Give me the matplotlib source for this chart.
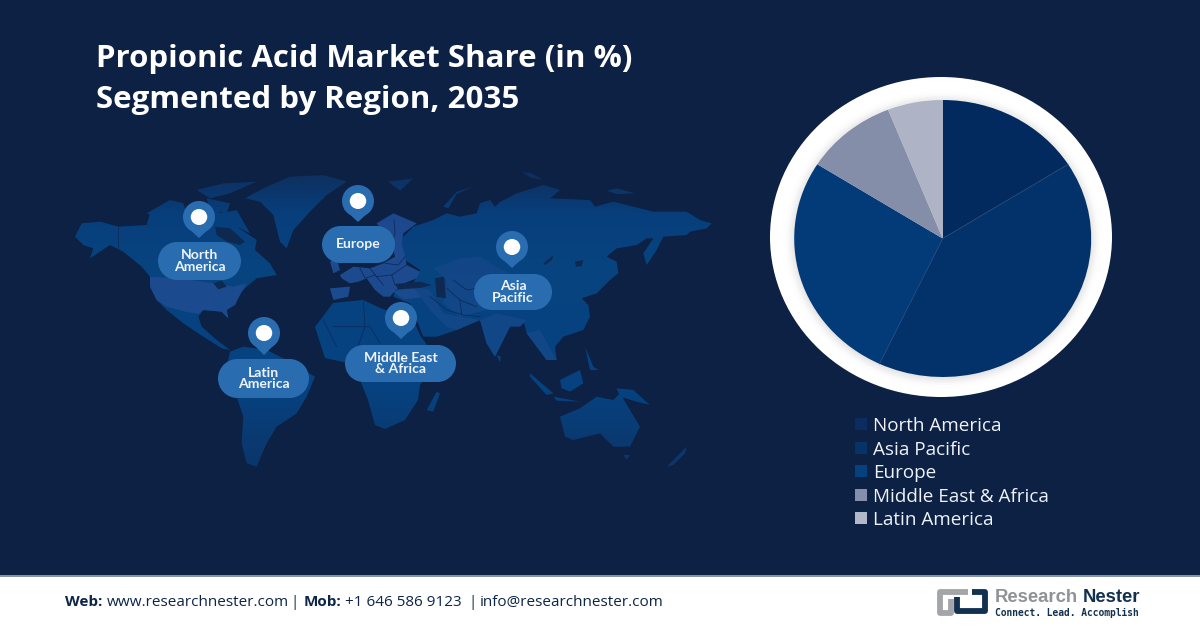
import numpy as np
import matplotlib
matplotlib.use('Agg')
import matplotlib.pyplot as plt
from matplotlib.patches import Ellipse, Polygon, Rectangle, PathPatch
from matplotlib.path import Path
from matplotlib.colors import LinearSegmentedColormap

# chart values
regions = ['North America', 'Asia Pacific', 'Europe', 'Middle East & Africa', 'Latin America']
shares = [16, 41, 27, 10, 6]
slice_colors = ['#022a5e', '#03326b', '#033b78', '#848ea8', '#aeb4c5']
legend_colors = ['#0b2c60', '#053566', '#04427f', '#858fab', '#b3b8c8']
shown_label = '41%'

title_lines = ['Propionic Acid Market Share (in %)', 'Segmented by Region, 2035']

BG = '#0d2144'
NAVY = '#0d2547'
PIN = '#2a6cb0'
SEA = '#0e2850'

fig = plt.figure(figsize=(12, 6.28), dpi=100, facecolor=BG)
bg = fig.add_axes([0, 0, 1, 1])
bg.set_xlim(0, 1200)
bg.set_ylim(628, 0)
bg.axis('off')


def crop(x0, y0):
    return lambda pts: [(x0 + x / 3, y0 + y / 3) for x, y in pts]


z3 = crop(70, 170)
z4 = crop(380, 170)
z5 = crop(320, 200)
z6 = crop(500, 170)
z7 = crop(130, 170)

eurasia = (
    z4([(60, 210), (100, 170), (160, 150), (200, 130), (240, 140), (290, 130), (300, 100), (330, 90), (345, 110),
        (360, 96)])
    + z6([(50, 70), (130, 45), (180, 60), (150, 85), (270, 90), (285, 110), (340, 95), (460, 125), (560, 125),
          (600, 150), (635, 160), (620, 175), (570, 185), (560, 195), (490, 200), (470, 240), (440, 285), (430, 250),
          (460, 205), (440, 205), (410, 225), (350, 235), (320, 260), (350, 275), (355, 310), (330, 330), (290, 370),
          (245, 385), (265, 405), (270, 440), (250, 480), (190, 500), (165, 530)])
    + z4([(530, 570), (500, 570), (470, 530), (440, 490), (430, 450), (390, 470), (345, 560), (320, 520), (300, 450),
          (230, 480), (170, 500), (130, 500), (90, 400), (40, 380), (50, 350), (100, 340), (120, 300), (60, 260)])
)

land = [
    # alaska + canada + central america
    z3([(15, 200), (35, 160), (90, 155), (145, 170), (230, 165), (240, 130), (300, 140), (340, 130), (400, 150),
        (420, 110), (470, 140), (500, 170), (530, 190), (560, 210), (555, 240), (600, 280), (620, 315), (560, 325),
        (530, 350), (500, 380), (495, 400), (470, 420), (475, 445), (455, 425), (400, 420), (385, 440), (395, 470),
        (440, 510), (480, 540), (455, 535), (400, 500), (340, 460), (290, 420), (260, 390), (240, 350), (240, 320),
        (215, 290), (160, 245), (120, 225), (60, 265), (70, 235), (40, 225)]),
    # arctic islands
    z7([(50, 130), (120, 90), (160, 100), (170, 130), (110, 150)]),
    z7([(200, 60), (280, 40), (380, 35), (300, 70), (240, 85)]),
    z7([(230, 85), (300, 100), (290, 130), (240, 120)]),
    z7([(270, 130), (320, 120), (360, 190), (320, 170)]),
    # greenland
    z7([(345, 85), (400, 55), (480, 20), (580, 15), (650, 35), (590, 75), (540, 125), (490, 180), (470, 235),
        (450, 215), (430, 135), (390, 95)]),
    # south america
    z3([(480, 545), (520, 530), (590, 540), (650, 570), (735, 620), (710, 680), (680, 730), (620, 770), (590, 820),
        (560, 890), (530, 880), (515, 820), (520, 740), (500, 680), (470, 630), (470, 590)]),
    # africa
    [(315, 327), (333, 303), (363, 300), (385, 310), (410, 312), (420, 335), (432, 352), (448, 355), (430, 372),
     (420, 385), (418, 400), (405, 420), (385, 429), (375, 425), (368, 400), (362, 385), (357, 365), (325, 358)],
    z4([(140, 720), (170, 665), (180, 670), (160, 725)]),
    eurasia,
    z4([(190, 110), (230, 65), (280, 50), (230, 72), (205, 115)]),
    z4([(25, 35), (100, 25), (60, 62)]),
    z6([(320, 62), (350, 55), (405, 70), (350, 72)]),
    z6([(65, 5), (95, 10), (130, 30), (90, 22)]),
    z4([(350, 555), (362, 560), (360, 578)]),
    # indonesia, philippines, new guinea
    z4([(450, 610), (520, 670), (500, 675), (450, 620)]),
    z4([(540, 630), (600, 600), (610, 640), (570, 665), (545, 655)]),
    z4([(520, 680), (600, 695), (530, 692)]),
    z4([(615, 530), (640, 590), (655, 600), (630, 600)]),
    z4([(710, 655), (760, 660), (810, 705), (770, 695), (720, 680)]),
    # australia + nz
    z4([(540, 740), (600, 715), (650, 680), (700, 690), (720, 670), (780, 770), (750, 830), (700, 830), (660, 790),
        (580, 810), (555, 800)]),
    z4([(730, 855), (750, 855), (740, 870)]),
    z4([(860, 890), (890, 860), (920, 830), (915, 850), (880, 885)]),
]

lighter = [
    # usa
    z3([(240, 320), (330, 325), (430, 340), (490, 350), (530, 340), (510, 375), (495, 405), (470, 420), (475, 445),
        (455, 425), (400, 420), (385, 432), (345, 425), (290, 410), (260, 390), (240, 350)]),
    # europe, scandinavia, iberia, uk, turkey
    z5([(60, 225), (100, 200), (150, 205), (190, 190), (225, 170), (215, 130), (170, 70), (220, 40), (290, 70),
        (250, 100), (245, 130), (255, 170), (260, 195), (300, 215), (290, 235), (240, 255), (210, 290), (190, 290),
        (165, 270), (140, 235), (115, 245), (90, 250), (65, 235)]),
    z5([(30, 265), (90, 260), (85, 290), (40, 300)]),
    z5([(220, 275), (270, 262), (320, 268), (325, 290), (250, 298)]),
    z3([(780, 275), (800, 265), (810, 300), (790, 310)]),
]

central_asia = [
    z4([(160, 295), (240, 265), (300, 260), (350, 290), (390, 310), (340, 330), (320, 420), (240, 440), (190, 400),
        (200, 330)]),
    z4([(100, 350), (150, 360), (190, 430), (240, 440), (300, 450), (230, 480), (200, 470), (150, 420)]),
    z4([(300, 450), (350, 430), (440, 450), (420, 470), (390, 470), (345, 560), (320, 520)]),
    z4([(440, 490), (480, 480), (530, 570), (500, 570), (470, 530)]),
]

dark_seas = [
    z5([(345, 235), (372, 230), (378, 295), (350, 290)]),
    z5([(225, 252), (300, 245), (335, 255), (300, 264), (235, 268)]),
    z7([(255, 170), (300, 175), (345, 215), (330, 225), (290, 215), (260, 195)]),
    z6([(130, 280), (160, 256), (155, 270), (135, 285)]),
    z6([(225, 275), (250, 270), (245, 288), (228, 290)]),
    z3([(430, 340), (455, 332), (470, 350), (445, 358)]),
]

# thin country borders
borders = [
    z5([(120, 205), (135, 235), (165, 225), (190, 255)]),
    z5([(150, 205), (170, 230), (215, 225), (260, 195)]),
    z5([(215, 225), (225, 255)]),
    z5([(195, 190), (235, 195), (255, 170)]),
    z5([(215, 130), (225, 100), (222, 60)]),
    z5([(400, 240), (440, 270), (470, 265)]),
    z5([(380, 265), (420, 300), (425, 345)]),
    z5([(420, 300), (470, 320)]),
    z5([(330, 290), (380, 330), (430, 345), (480, 350)]),
    z3([(790, 470), (900, 470), (930, 520)]),
    z3([(880, 395), (885, 470), (860, 540)]),
    z3([(760, 450), (800, 530)]),
    z3([(145, 170), (145, 235)]),
]


def to_path(polys):
    verts, codes = [], []
    for p in polys:
        verts += list(p) + [p[0]]
        codes += [Path.MOVETO] + [Path.LINETO] * (len(p) - 1) + [Path.CLOSEPOLY]
    return Path(verts, codes)


def shaded(polys, colors, zorder):
    # land fades a bit towards the top and bottom of the map
    cmap = LinearSegmentedColormap.from_list('land', colors)
    im = bg.imshow(np.linspace(0, 1, 256).reshape(-1, 1), extent=(70, 720, 480, 170), cmap=cmap,
                   aspect='auto', zorder=zorder)
    patch = PathPatch(to_path(polys), transform=bg.transData, fc='none', ec='none')
    bg.add_patch(patch)
    im.set_clip_path(patch)


shaded(land, ['#0f2e5c', '#073f7c', '#07437f', '#07437f', '#064280', '#064280', '#0a3a72', '#0c3468'], 1)
shaded(lighter, ['#1c4488', '#1f4a90', '#1b4a8e', '#174684', '#174684'], 2)
shaded(central_asia, ['#124585', '#124585', '#124888', '#114684', '#114684'], 2)
for p in dark_seas:
    bg.add_patch(Polygon(p, fc=SEA, ec='none', zorder=3))
for line in borders:
    xs, ys = zip(*line)
    bg.plot(xs, ys, color='#0c2c5c', lw=0.6, zorder=3)
bg.set_xlim(0, 1200)
bg.set_ylim(628, 0)

# pins and labels: text, pill box, pin centre, tip y
callouts = [
    ('North\nAmerica', (158, 242, 241, 280), (199, 217), 238),
    ('Europe', (322, 226, 395, 263), (358, 201), 222),
    ('Latin\nAmerica', (218, 359, 309, 398), (264, 333), 355),
    ('Middle East\n& Africa', (345, 345, 456, 382), (401, 318), 339),
    ('Asia\nPacific', (474, 274, 552, 310), (512, 247), 268),
]
for name, box, c, tip in callouts:
    x0, y0, x1, y1 = box
    r = (y1 - y0) / 2
    bg.add_patch(Rectangle((x0 + r, y0), x1 - x0 - 2 * r, y1 - y0, fc=PIN, ec='none', zorder=5))
    bg.add_patch(Ellipse((x0 + r, y0 + r), 2 * r, 2 * r, fc=PIN, ec='none', zorder=5))
    bg.add_patch(Ellipse((x1 - r, y0 + r), 2 * r, 2 * r, fc=PIN, ec='none', zorder=5))
    bg.text((x0 + x1) / 2, (y0 + y1) / 2, name, color='#eef4fa', fontsize=10.1, fontweight='bold', family='Lato',
            ha='center', va='center', linespacing=0.95, zorder=6)
    # pin
    bg.add_patch(Ellipse(c, 32, 32, fc=PIN, ec='none', zorder=5))
    bg.add_patch(Polygon([(c[0] - 14, c[1] + 8), (c[0] + 14, c[1] + 8), (c[0], tip)], fc=PIN, ec='none', zorder=5))
    bg.add_patch(Ellipse(c, 16.5, 16, fc='white', ec='none', zorder=6))

# title
for y, line in zip([59, 100], title_lines):
    bg.text(96, y, line, color='white', fontsize=22.5, fontweight='bold', family='Open Sans', va='center', ha='left')

# white ring round the pie, slightly shaded on the inside
bg.add_patch(Ellipse((941, 237), 342, 320, fc='white', ec='none', zorder=2))
for k, col in zip([10, 7, 5, 3, 1], ['#fdfdfd', '#f9f9f9', '#f3f3f4', '#ededee', '#e6e6e8']):
    bg.add_patch(Ellipse((942.7, 239.5), 297 + 2 * k, 277 + 2 * k, fc=col, ec='none', zorder=2))

# pie, stretched wider than tall like the reference
ax = fig.add_axes([794.2 / 1200, 1 - 377 / 628, 297 / 1200, 277 / 628])
wedges, _ = ax.pie(shares, colors=slice_colors, startangle=90, counterclock=False, radius=1,
                   wedgeprops={'linewidth': 0})
ax.set_aspect('auto')
ax.set_xlim(-1, 1)
ax.set_ylim(-1, 1)
for w in wedges:
    w.set_clip_on(False)
# thin seams between the dark slices
for ang in np.cumsum(shares)[[0, 1]] / 100 * 2 * np.pi:
    ax.plot([0, np.sin(ang)], [0, np.cos(ang)], color='#1d4478', lw=0.6, clip_on=False)
bg.text(1017, 243, shown_label, color='white', fontsize=8.8, fontweight='bold', family='Open Sans',
        ha='center', va='center', zorder=6)

# legend
for y, name, col in zip([424, 448, 471, 495, 518], regions, legend_colors):
    bg.add_patch(Rectangle((855, y - 6), 12, 12, fc=col, ec='none', zorder=4))
    bg.text(873, y + 2, name, color='#eef2f7', fontsize=13.55, family='Open Sans', va='center', ha='left')

# footer
bg.add_patch(Rectangle((0, 576), 1200, 52, fc='white', ec='none', zorder=4))
bg.add_patch(Rectangle((0, 575), 1200, 2, fc='#8493a8', ec='none', zorder=5))
footer = [
    (65, 'Web:', 'bold'), (107, 'www.researchnester.com', 'normal'), (290, '|', 'normal'),
    (304, 'Mob:', 'bold'), (345, '+1 646 586 9123', 'normal'), (468, '|', 'normal'),
    (480, 'info@researchnester.com', 'normal'),
]
for x, txt, weight in footer:
    bg.text(x, 606, txt, color=NAVY, fontsize=10.95, fontweight=weight, family='Open Sans', va='baseline', ha='left',
            zorder=6)

# logo
gray_x = [968, 940, 940, 951, 951]
gray_y = [592, 592, 613, 613, 599]
navy_x = [972, 985, 985, 957, 957]
navy_y = [592, 592, 611, 611, 597]
bg.plot(gray_x, gray_y, color='#a3a5a8', lw=4.2, solid_joinstyle='round', solid_capstyle='butt', zorder=6)
bg.plot(navy_x, navy_y, color='#12304f', lw=4.2, solid_joinstyle='round', solid_capstyle='butt', zorder=7)
bg.text(995, 598, 'Research', color='#8f9296', fontsize=13.3, fontweight='bold', va='center', ha='left', zorder=6,
        family='Liberation Sans')
bg.text(1083, 598, 'Nester', color='#12304f', fontsize=13.3, fontweight='bold', va='center', ha='left', zorder=6,
        family='Liberation Sans')
bg.text(995, 613, 'Connect. Lead. Accomplish', color='#12304f', fontsize=6.9, fontweight='bold', va='center',
        ha='left', family='DejaVu Sans Mono', zorder=6)

fig.savefig('out.png', dpi=100, facecolor=fig.get_facecolor())
